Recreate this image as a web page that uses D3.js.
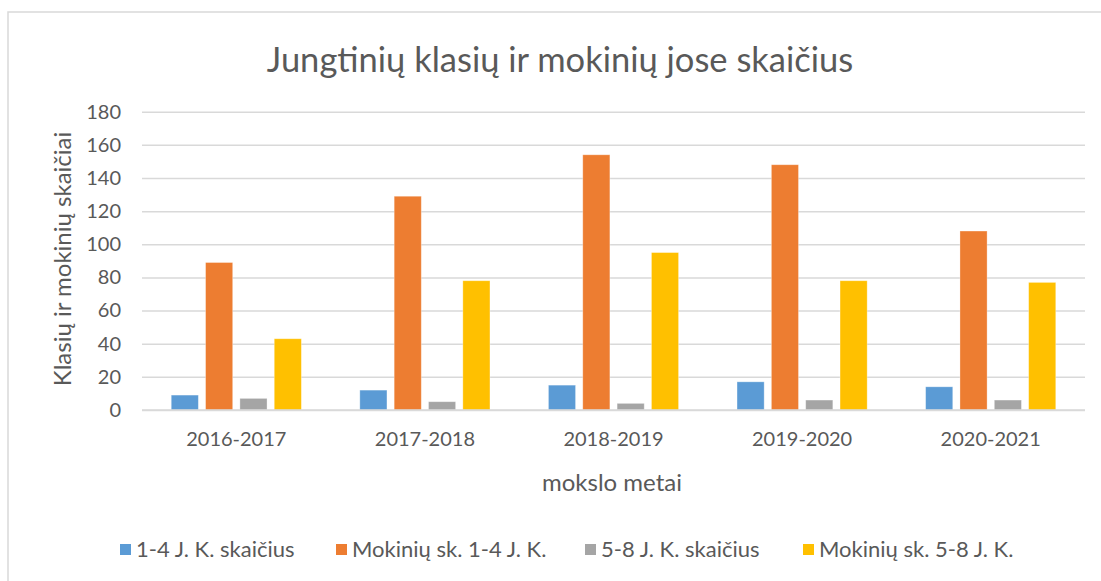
<!DOCTYPE html>
<html><head><meta charset="utf-8">
<script src="https://cdn.jsdelivr.net/npm/d3@7"></script>
<style>
html,body{margin:0;padding:0;background:#fff;}
svg text{font-family:Lato,"Open Sans",sans-serif;fill:#595959;}
</style></head>
<body><svg id="c" width="1101" height="581"></svg>
<script>
const categories = ["2016-2017","2017-2018","2018-2019","2019-2020","2020-2021"];
const seriesNames = ["1-4 J. K. skaičius","Mokinių sk. 1-4 J. K.","5-8 J. K. skaičius","Mokinių sk. 5-8 J. K."];
const classes14 = [9,12,15,17,14];
const pupils14 = [89,129,154,148,108];
const classes58 = [7,5,4,6,6];
const pupils58 = [43,78,95,78,77];
const yTicks = [0,20,40,60,80,100,120,140,160,180];
const colors = ["#5B9BD5","#ED7D31","#A5A5A5","#FFC000"];
const title = "Jungtinių klasių ir mokinių jose skaičius";
const yTitle = "Klasių ir mokinių skaičiai";
const xTitle = "mokslo metai";

const seriesValues = [classes14, pupils14, classes58, pupils58];
const svg = d3.select("#c");

// chart border
svg.append("rect").attr("x",8).attr("y",12).attr("width",1120).attr("height",600)
  .attr("fill","none").attr("stroke","#d9d9d9").attr("stroke-width",1.5);

const pL = 142, pR = 1085, pT = 111.7, pB = 410;
const x0 = d3.scaleBand().domain(categories).range([pL,pR]).paddingInner(0.31).paddingOuter(0.155);
const x1 = d3.scaleBand().domain(d3.range(4)).range([0,x0.bandwidth()]).paddingInner(0.21);
const y = d3.scaleLinear().domain([0,180]).range([pB,pT]);

// gridlines + y ticks
const yAxis = d3.axisLeft(y).tickValues(yTicks).tickSize(-(pR-pL)).tickPadding(21);
const gy = svg.append("g").attr("transform",`translate(${pL},0)`).call(yAxis);
gy.select(".domain").remove();
gy.selectAll(".tick line").attr("stroke","#d9d9d9").attr("stroke-width",1.5);
gy.selectAll(".tick text").attr("font-size",20).attr("font-family","Lato").style("fill","#595959");

// bars
const groups = svg.append("g").selectAll("g").data(categories).join("g")
  .attr("transform",d=>`translate(${x0(d)},0)`);
groups.selectAll("rect").data((d,i)=>seriesValues.map((s,k)=>({k,v:s[i]}))).join("rect")
  .attr("x",d=>x1(d.k)).attr("width",x1.bandwidth())
  .attr("y",d=>y(d.v)).attr("height",d=>y(0)-y(d.v))
  .attr("fill",d=>colors[d.k]).attr("stroke","#fff").attr("stroke-opacity",0.4).attr("stroke-width",0.8);

// x axis labels
const xAxis = d3.axisBottom(x0).tickSize(0).tickPadding(22);
const gx = svg.append("g").attr("transform",`translate(0,${pB})`).call(xAxis);
gx.select(".domain").attr("stroke","#d9d9d9").attr("stroke-width",1.5).attr("d",`M${pL},0H${pR}`);
gx.selectAll(".tick text").attr("font-size",20).attr("font-family","Lato").style("fill","#595959");

// titles
svg.append("text").attr("x",560).attr("y",72).attr("text-anchor","middle")
  .attr("font-size",34.5).text(title);
svg.append("text").attr("transform","translate(71,259) rotate(-90)").attr("text-anchor","middle")
  .attr("font-size",24).text(yTitle);
svg.append("text").attr("x",612).attr("y",491).attr("text-anchor","middle")
  .attr("font-size",24).text(xTitle);

// legend
const legendX = [120, 336, 585, 803];
const lg = svg.append("g").selectAll("g").data(seriesNames).join("g")
  .attr("transform",(d,i)=>`translate(${legendX[i]},550)`);
lg.append("rect").attr("x",0).attr("y",-6).attr("width",11).attr("height",11).attr("fill",(d,i)=>colors[i]);
lg.append("text").attr("x",16).attr("y",7).attr("font-size",22).text(d=>d);
</script></body></html>
